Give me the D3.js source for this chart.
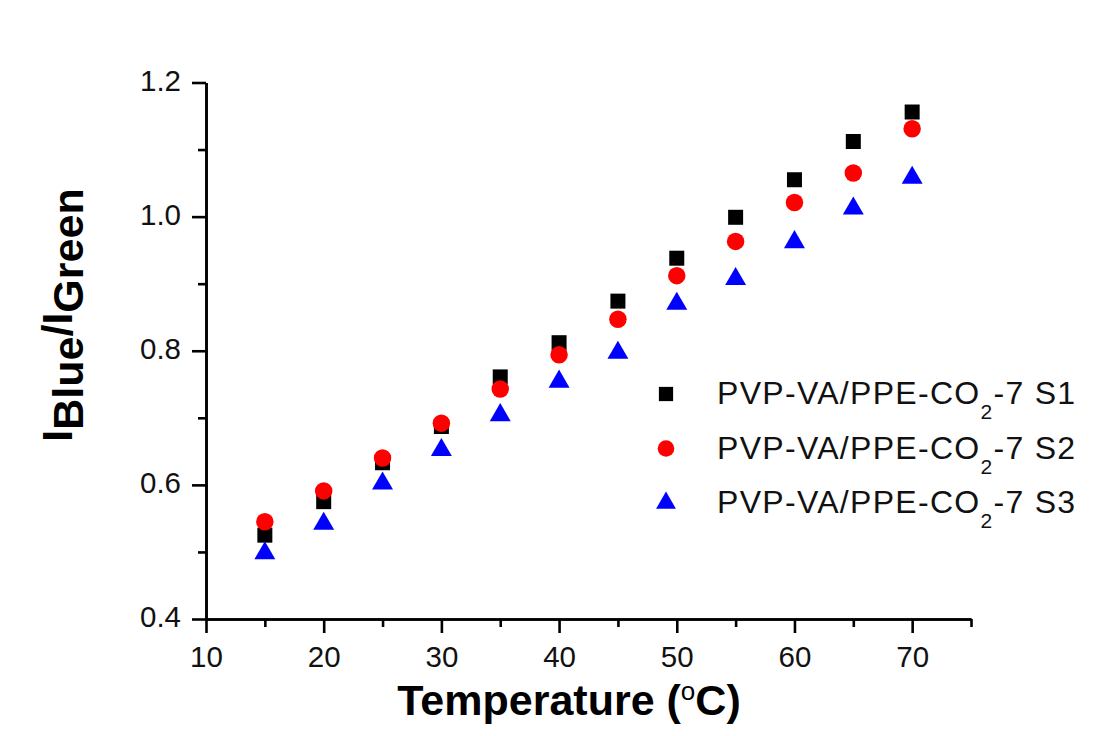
<!DOCTYPE html>
<html>
<head>
<meta charset="utf-8">
<script src="https://cdn.jsdelivr.net/npm/d3@7"></script>
<style>
  html, body { margin: 0; padding: 0; background: #fff; }
  svg { display: block; font-family: "Liberation Sans", Arial, sans-serif; }
</style>
</head>
<body>
<div id="app"></div>
<script>
// temperatures (°C)
const temps = [15, 20, 25, 30, 35, 40, 45, 50, 55, 60, 65, 70];

// I_Blue / I_Green ratio for each sample
const s1 = [0.525, 0.575, 0.633, 0.687, 0.761, 0.812, 0.874, 0.938, 0.999, 1.055, 1.112, 1.156];
const s2 = [0.545, 0.591, 0.640, 0.692, 0.743, 0.794, 0.847, 0.912, 0.963, 1.021, 1.065, 1.131];
const s3 = [0.498, 0.542, 0.602, 0.652, 0.704, 0.754, 0.797, 0.870, 0.907, 0.962, 1.012, 1.058];

const seriesNames = ['S1', 'S2', 'S3'];
const seriesColors = ['#000000', '#ff0000', '#0000ff'];

const xTicks = [10, 20, 30, 40, 50, 60, 70];
const xMinor = [15, 25, 35, 45, 55, 65, 75];
const yTicks = [0.4, 0.6, 0.8, 1.0, 1.2];
const yMinor = [0.5, 0.7, 0.9, 1.1];

const w = 1110;
const h = 736;

const svg = d3.select('#app').append('svg')
  .attr('width', w)
  .attr('height', h);

const x = d3.scaleLinear().domain([10, 75]).range([206, 971]);
const y = d3.scaleLinear().domain([0.4, 1.2]).range([619, 82.5]);

//////////AXES//////////

svg.append('g')
  .attr('transform', `translate(0,${y(0.4)})`)
  .call(d3.axisBottom(x).tickValues(xTicks).tickSize(14).tickSizeOuter(0).tickPadding(13).tickFormat(d3.format('d')));

svg.append('g')
  .attr('transform', `translate(0,${y(0.4)})`)
  .call(d3.axisBottom(x).tickValues(xMinor).tickSize(8).tickSizeOuter(0).tickFormat(''));

const yAxis = svg.append('g')
  .attr('transform', `translate(${x(10)},0)`)
  .call(d3.axisLeft(y).tickValues(yTicks).tickSize(14).tickSizeOuter(0).tickPadding(11).tickFormat(d3.format('.1f')));

svg.append('g')
  .attr('transform', `translate(${x(10)},0)`)
  .call(d3.axisLeft(y).tickValues(yMinor).tickSize(8).tickSizeOuter(0).tickFormat(''));

svg.selectAll('.domain, .tick line')
  .attr('stroke', '#000')
  .attr('stroke-width', 2.6);

svg.selectAll('.tick text')
  .attr('font-size', 29.5)
  .attr('font-family', '"Liberation Sans", Arial, sans-serif')
  .attr('fill', '#111');

yAxis.selectAll('.tick text').attr('dy', '0.26em');

//////////AXIS TITLES//////////

const xTitle = svg.append('text')
  .attr('x', 569)
  .attr('y', 715)
  .attr('text-anchor', 'middle')
  .attr('font-size', 43)
  .attr('font-weight', 'bold');
xTitle.append('tspan').text('Temperature (');
xTitle.append('tspan').attr('font-size', 26).attr('font-weight', 'normal').attr('dy', -15).text('o');
xTitle.append('tspan').attr('dy', 15).text('C)');

const yTitle = svg.append('text')
  .attr('transform', 'translate(72,315) rotate(-90)')
  .attr('text-anchor', 'middle')
  .attr('font-size', 43)
  .attr('font-weight', 'bold');
yTitle.append('tspan').text('I');
yTitle.append('tspan').attr('dy', 11).text('Blue');
yTitle.append('tspan').attr('dy', -11).text('/I');
yTitle.append('tspan').attr('dy', 11).text('Green');

//////////POINTS//////////

const symbols = [d3.symbolSquare, d3.symbolCircle, d3.symbolTriangle];
const sizes = [225, 240, 190];
const allSeries = [s1, s2, s3];

allSeries.forEach((vals, k) => {
  svg.append('g')
    .selectAll('path')
    .data(vals)
    .join('path')
    .attr('d', d3.symbol(symbols[k], sizes[k]))
    .attr('transform', (d, i) => `translate(${x(temps[i])},${y(d)})`)
    .attr('fill', seriesColors[k]);
});

//////////LEGEND//////////

const legend = svg.append('g');
seriesNames.forEach((name, k) => {
  const ly = 394 + k * 54.5;
  legend.append('path')
    .attr('d', d3.symbol(symbols[k], sizes[k] * 0.9))
    .attr('transform', `translate(666,${ly})`)
    .attr('fill', seriesColors[k]);
  const t = legend.append('text')
    .attr('x', 717)
    .attr('y', ly + 10)
    .attr('font-size', 32)
    .attr('letter-spacing', 1.3)
    .attr('fill', '#111');
  t.append('tspan').text('PVP-VA/PPE-CO');
  t.append('tspan').attr('font-size', 21).attr('dy', 15).text('2');
  t.append('tspan').attr('dy', -15).text('-7 ' + name);
});
</script>
</body>
</html>
